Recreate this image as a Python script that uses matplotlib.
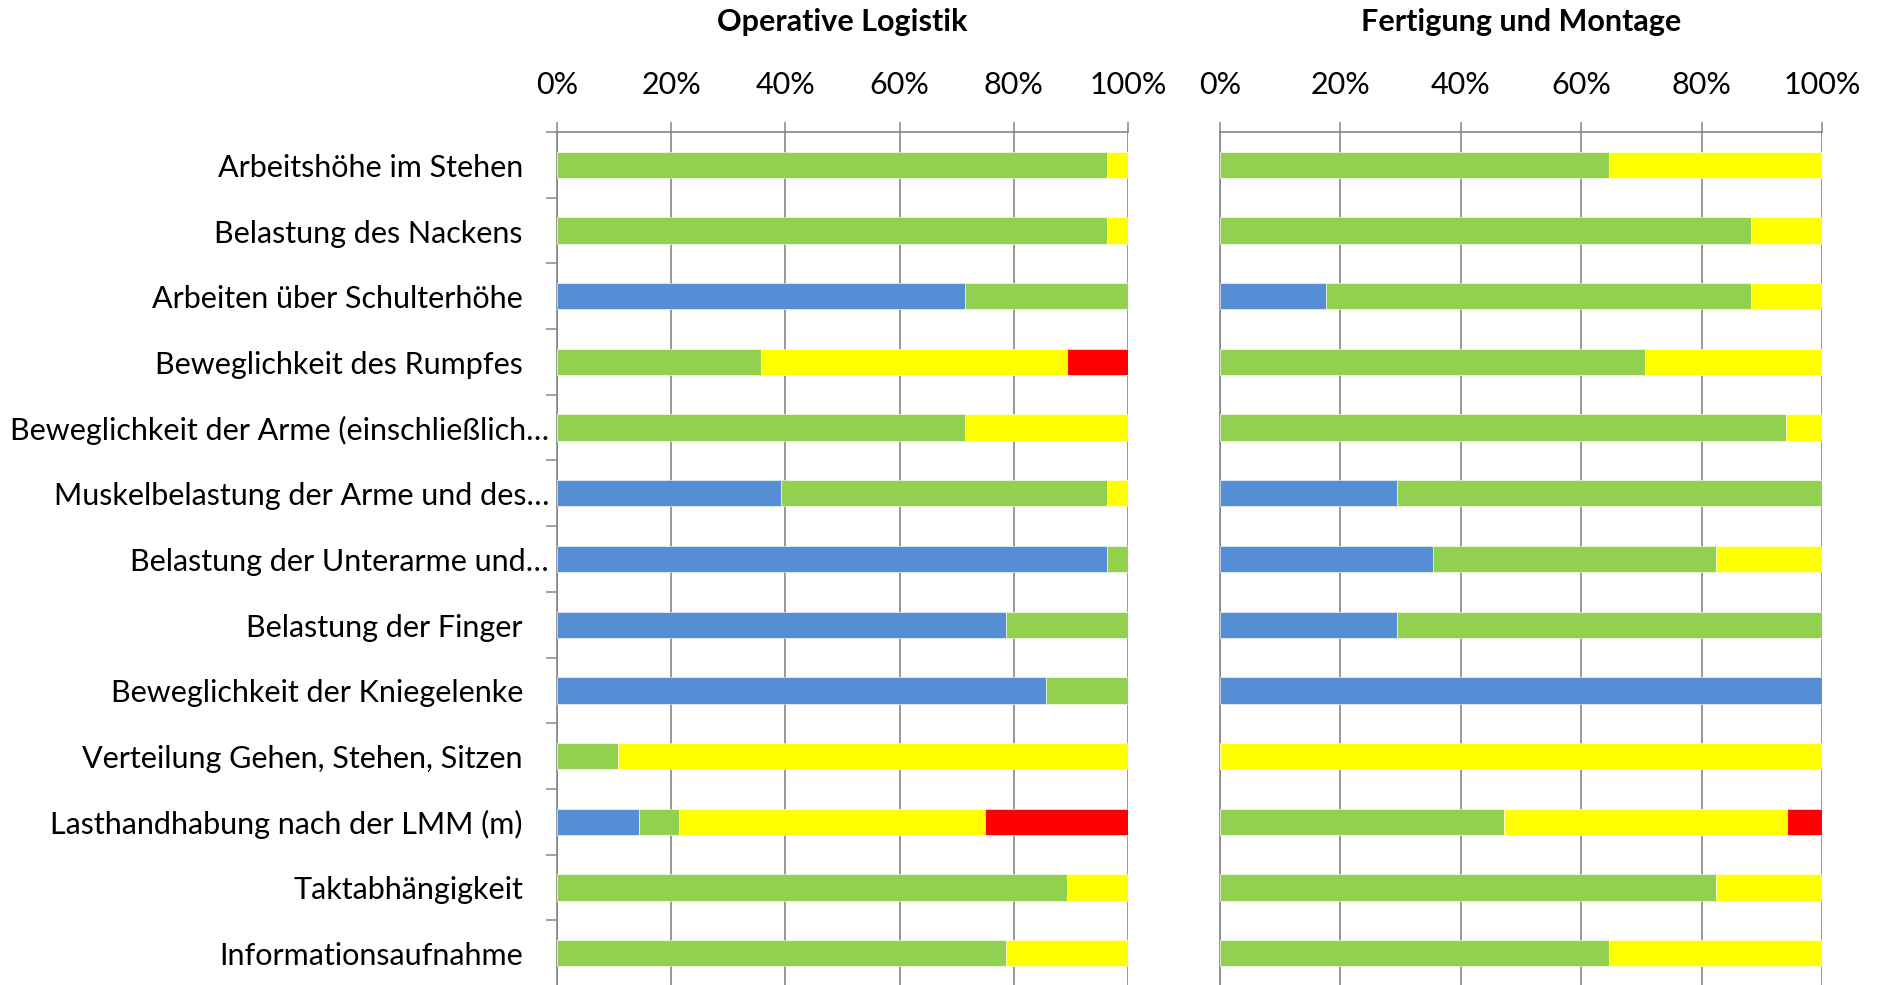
import matplotlib
matplotlib.use("Agg")
import matplotlib.pyplot as plt
from matplotlib.ticker import FixedLocator, FuncFormatter
from matplotlib.transforms import ScaledTranslation

# categories top to bottom
CATEGORIES = [
    "Arbeitshöhe im Stehen",
    "Belastung des Nackens",
    "Arbeiten über Schulterhöhe",
    "Beweglichkeit des Rumpfes",
    "Beweglichkeit der Arme (einschließlich…",
    "Muskelbelastung der Arme und des…",
    "Belastung der Unterarme und…",
    "Belastung der Finger",
    "Beweglichkeit der Kniegelenke",
    "Verteilung Gehen, Stehen, Sitzen",
    "Lasthandhabung nach der LMM (m)",
    "Taktabhängigkeit",
    "Informationsaufnahme",
]

PANEL_TITLES = ["Operative Logistik", "Fertigung und Montage"]
TICK_VALUES = [0, 20, 40, 60, 80, 100]

# Operative Logistik, share in %
LOG_BLUE = [0, 0, 71.4, 0, 0, 39.3, 96.4, 78.6, 85.7, 0, 14.3, 0, 0]
LOG_GREEN = [96.4, 96.4, 28.6, 35.7, 71.4, 57.1, 3.6, 21.4, 14.3, 10.7, 7.1, 89.3, 78.6]
LOG_YELLOW = [3.6, 3.6, 0, 53.6, 28.6, 3.6, 0, 0, 0, 89.3, 53.6, 10.7, 21.4]
LOG_RED = [0, 0, 0, 10.7, 0, 0, 0, 0, 0, 0, 25.0, 0, 0]

# Fertigung und Montage, share in %
FM_BLUE = [0, 0, 17.6, 0, 0, 29.4, 35.3, 29.4, 100, 0, 0, 0, 0]
FM_GREEN = [64.7, 88.2, 70.6, 70.6, 94.1, 70.6, 47.1, 70.6, 0, 0, 47.1, 82.4, 64.7]
FM_YELLOW = [35.3, 11.8, 11.8, 29.4, 5.9, 0, 17.6, 0, 0, 100, 47.1, 17.6, 35.3]
FM_RED = [0, 0, 0, 0, 0, 0, 0, 0, 0, 0, 5.9, 0, 0]

COLORS = ["#558ED5", "#92D050", "#FFFF00", "#FF0000"]
GRID = "#868686"
FONT = "Lato"
SIZE = 22


def draw_panel(fig, ax, series, title, with_labels):
    ypos = list(range(len(CATEGORIES)))
    left = [0.0] * len(CATEGORIES)
    for values, color in zip(series, COLORS):
        ax.barh(ypos, values, left=left, height=0.4, color=color,
                edgecolor="white", linewidth=0.4, zorder=3)
        left = [a + b for a, b in zip(left, values)]

    ax.set_xlim(0, 100)
    ax.set_ylim(len(CATEGORIES) - 0.5, -0.5)
    ax.xaxis.tick_top()
    ax.xaxis.set_major_locator(FixedLocator(TICK_VALUES))
    ax.xaxis.set_major_formatter(FuncFormatter(lambda v, _: f"{v:.0f}%"))
    ax.tick_params(axis="x", direction="out", length=7, width=1.1, color=GRID,
                   pad=17, labelsize=SIZE, labelfontfamily=FONT)
    ax.grid(axis="x", color=GRID, linewidth=1.2, zorder=0)
    ax.set_axisbelow(True)

    ax.set_yticks([])
    if with_labels:
        ax.yaxis.set_minor_locator(FixedLocator([i - 0.5 for i in range(len(CATEGORIES) + 1)]))
        ax.tick_params(axis="y", which="minor", direction="out", length=8, width=1.1, color=GRID)
        for i, label in enumerate(CATEGORIES):
            pad = 8 if label.endswith("…") else 34
            shift = ScaledTranslation(-pad / 100, -3 / 100, fig.dpi_scale_trans)
            ax.text(0, i, label, transform=ax.get_yaxis_transform() + shift,
                    ha="right", va="center", fontsize=SIZE, family=FONT)

    for side in ["right", "bottom"]:
        ax.spines[side].set_visible(False)
    for side in ["left", "top"]:
        ax.spines[side].set_color(GRID)
        ax.spines[side].set_linewidth(1.2)

    box = ax.get_position()
    fig.text(box.x0 + box.width / 2, 1 - 22 / 985, title, ha="center", va="center",
             fontsize=SIZE, fontweight="bold", family=FONT)


def main():
    fig = plt.figure(figsize=(18.77, 9.85), dpi=100)
    top = 1 - 132 / 985
    ax_log = fig.add_axes([557 / 1877, -0.001, 571 / 1877, top + 0.001])
    ax_fm = fig.add_axes([1220 / 1877, -0.001, 602 / 1877, top + 0.001])

    draw_panel(fig, ax_log, [LOG_BLUE, LOG_GREEN, LOG_YELLOW, LOG_RED], PANEL_TITLES[0], True)
    draw_panel(fig, ax_fm, [FM_BLUE, FM_GREEN, FM_YELLOW, FM_RED], PANEL_TITLES[1], False)

    fig.savefig("out.png", dpi=100)
    plt.close(fig)


if __name__ == "__main__":
    main()
